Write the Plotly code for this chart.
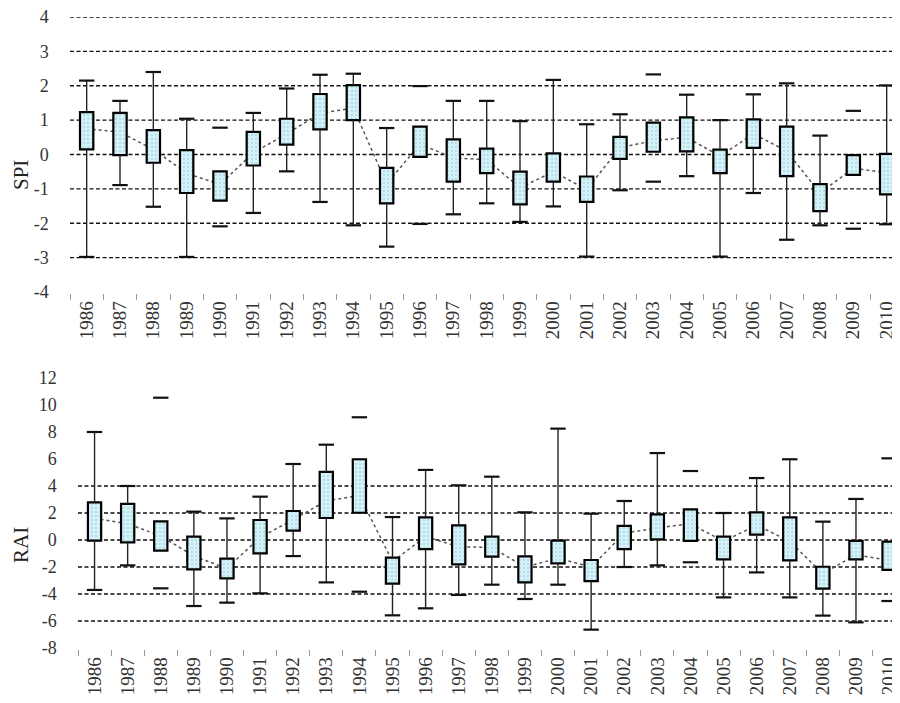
import plotly.graph_objects as go

YEARS = [str(y) for y in range(1986, 2011)]

# ---- SPI (top panel) ----
SPI_LOW  = [-2.98, -0.89, -1.52, -2.98, None, -1.70, -0.49, -1.38, -2.06, -2.68, None, -1.74, -1.42,
            -1.96, -1.51, -2.97, -1.04, None, -0.63, -2.97, -1.12, -2.48, -2.06, None, -2.03]
SPI_Q1   = [0.15, -0.02, -0.24, -1.12, -1.34, -0.32, 0.29, 0.73, 1.00, -1.42, -0.07, -0.79, -0.54,
            -1.45, -0.79, -1.38, -0.13, 0.08, 0.09, -0.54, 0.19, -0.63, -1.65, -0.59, -1.16]
SPI_Q3   = [1.23, 1.21, 0.71, 0.13, -0.49, 0.66, 1.04, 1.76, 2.02, -0.39, 0.81, 0.44, 0.17,
            -0.50, 0.03, -0.64, 0.51, 0.93, 1.08, 0.14, 1.02, 0.81, -0.86, -0.02, 0.02]
SPI_HIGH = [2.15, 1.56, 2.40, 1.04, None, 1.21, 1.92, 2.32, 2.35, 0.77, None, 1.56, 1.56,
            0.97, 2.17, 0.88, 1.17, None, 1.74, 1.00, 1.75, 2.07, 0.55, None, 2.01]
SPI_MEAN = [0.75, 0.65, 0.15, -0.55, -0.87, 0.05, 0.60, 1.20, 1.35, -0.85, 0.30, -0.10, -0.15,
            -0.97, -0.50, -1.02, 0.20, 0.40, 0.50, -0.05, 0.60, 0.10, -1.12, -0.40, -0.53]
SPI_OUT_YEARS = ["1990", "1990", "1996", "1996", "2003", "2003", "2009", "2009"]
SPI_OUT_VALUES = [0.78, -2.09, 1.99, -2.02, 2.33, -0.79, 1.27, -2.16]
SPI_TICKS = [4, 3, 2, 1, 0, -1, -2, -3, -4]
SPI_GRID = [4, 3, 2, 1, 0, -1, -2, -3]

# ---- RAI (bottom panel) ----
RAI_LOW  = [-3.70, -1.88, None, -4.89, -4.64, -3.95, -1.19, -3.14, None, -5.58, -5.06, -4.07, -3.31,
            -4.37, -3.31, -6.64, -2.00, -1.88, None, -4.25, -2.40, -4.25, -5.60, -6.10, None]
RAI_Q1   = [-0.05, -0.17, -0.79, -2.17, -2.84, -0.99, 0.69, 1.63, 2.02, -3.23, -0.67, -1.80, -1.23,
            -3.14, -1.73, -3.04, -0.67, 0.05, -0.07, -1.43, 0.40, -1.51, -3.60, -1.43, -2.22]
RAI_Q3   = [2.79, 2.67, 1.38, 0.25, -1.38, 1.48, 2.15, 5.04, 5.98, -1.31, 1.68, 1.09, 0.25,
            -1.21, -0.05, -1.48, 1.04, 1.90, 2.27, 0.25, 2.05, 1.68, -1.98, -0.07, -0.12]
RAI_HIGH = [8.00, 4.00, None, 2.10, 1.60, 3.21, 5.63, 7.06, None, 1.70, 5.19, 4.05, 4.69,
            2.05, 8.25, 1.95, 2.89, 6.44, None, 2.00, 4.59, 5.98, 1.36, 3.04, None]
RAI_MEAN = [1.60, 1.20, 0.30, -1.20, -2.10, 0.20, 1.50, 2.90, 3.30, -1.60, 0.25, -0.50, -0.55,
            -2.00, -1.35, -2.00, 0.50, 0.90, 1.20, -0.10, 1.10, -0.10, -2.50, -1.10, -1.50]
RAI_OUT_YEARS = ["1988", "1988", "1994", "1994", "2004", "2004", "2010", "2010"]
RAI_OUT_VALUES = [10.54, -3.58, 9.09, -3.83, 5.11, -1.65, 6.05, -4.52]
RAI_TICKS = [12, 10, 8, 6, 4, 2, 0, -2, -4, -6, -8]
RAI_GRID = [4, 2, 0, -2, -4, -6]

SERIF = "Liberation Serif"
BOX_BG = "#d6f2f8"
BOX_DOT = "#86c9d9"
# the page has an 8px body margin, so the figure fills the rest of the 900x703 window
W, H = 892, 695

fig = go.Figure()


def add_panel(xa, ya, low, q1, q3, high, mean, out_years, out_values):
    # mean connecting line (behind boxes)
    fig.add_trace(go.Scatter(
        x=YEARS, y=mean, mode="lines", xaxis=xa, yaxis=ya, zorder=0,
        line=dict(color="#555555", width=1.5, dash="3px,3px"), hoverinfo="skip"))
    # boxes
    fig.add_trace(go.Bar(
        x=YEARS, y=[b - a for a, b in zip(q1, q3)], base=q1, width=0.4,
        xaxis=xa, yaxis=ya, zorder=1,
        marker=dict(color=BOX_BG, line=dict(color="black", width=2.2),
                    pattern=dict(shape=".", fgcolor=BOX_DOT, bgcolor=BOX_BG,
                                 size=4, solidity=0.25))))
    # whiskers
    wx, wy, cx, cy = [], [], [], []
    for yr, lo, a, b, hi in zip(YEARS, low, q1, q3, high):
        if hi is not None:
            wx += [yr, yr, None]
            wy += [hi, b, None]
            cx.append(yr); cy.append(hi)
        if lo is not None:
            wx += [yr, yr, None]
            wy += [a, lo, None]
            cx.append(yr); cy.append(lo)
    fig.add_trace(go.Scatter(
        x=wx, y=wy, mode="lines", xaxis=xa, yaxis=ya, zorder=2,
        line=dict(color="#222222", width=1.4), hoverinfo="skip"))
    # caps and extreme marks
    fig.add_trace(go.Scatter(
        x=cx + out_years, y=cy + out_values, mode="markers", xaxis=xa, yaxis=ya, zorder=3,
        marker=dict(symbol="line-ew", size=11, line=dict(color="#111111", width=2.2))))


add_panel("x", "y", SPI_LOW, SPI_Q1, SPI_Q3, SPI_HIGH, SPI_MEAN, SPI_OUT_YEARS, SPI_OUT_VALUES)
add_panel("x2", "y2", RAI_LOW, RAI_Q1, RAI_Q3, RAI_HIGH, RAI_MEAN, RAI_OUT_YEARS, RAI_OUT_VALUES)

GRID_LINE = dict(color="#111111", width=1.3, dash="4px,2.5px")
shapes = []
for v in SPI_GRID:
    shapes.append(dict(type="line", xref="x domain", yref="y", x0=0, x1=1, y0=v, y1=v,
                       layer="below", line=GRID_LINE))
for v in RAI_GRID:
    shapes.append(dict(type="line", xref="x2 domain", yref="y2", x0=0, x1=1, y0=v, y1=v,
                       layer="below", line=GRID_LINE))

xcommon = dict(type="category", showline=True, linecolor="#9a9a9a", linewidth=1.5,
               ticks="outside", tickson="boundaries", ticklen=6, tickcolor="#9a9a9a",
               tickwidth=1.2, tickangle=-90, showgrid=False, zeroline=False,
               automargin=False, ticklabeloverflow="allow",
               tickfont=dict(family=SERIF, size=19, color="#333333"), fixedrange=True)
ycommon = dict(showline=True, linecolor="#9a9a9a", linewidth=1.5, showgrid=False,
               zeroline=False, ticks="", ticklabelstandoff=16, automargin=False,
               ticklabeloverflow="allow",
               tickfont=dict(family=SERIF, size=18, color="#333333"))

fig.update_layout(
    width=W, height=H, margin=dict(l=0, r=0, t=0, b=0, pad=0, autoexpand=False),
    paper_bgcolor="white", plot_bgcolor="white", showlegend=False, barmode="overlay",
    xaxis=dict(xcommon, domain=[62 / W, 1], anchor="y", range=[-0.5, 24.4]),
    yaxis=dict(ycommon, domain=[1 - 284 / H, 1 - 9 / H], anchor="x", range=[-4, 4],
               tickvals=SPI_TICKS, ticktext=[str(v) for v in SPI_TICKS]),
    xaxis2=dict(xcommon, domain=[70 / W, 1], anchor="y2", range=[-0.5, 24.33]),
    yaxis2=dict(ycommon, domain=[1 - 640 / H, 1 - 370 / H], anchor="x2", range=[-8, 12],
                tickvals=RAI_TICKS, ticktext=[str(v) for v in RAI_TICKS]),
    shapes=shapes,
    annotations=[
        dict(text="SPI", xref="paper", yref="paper", x=13 / W, y=1 - 167 / H, showarrow=False,
             xanchor="center", yanchor="middle",
             textangle=-90, font=dict(family=SERIF, size=21, color="#222222")),
        dict(text="RAI", xref="paper", yref="paper", x=13 / W, y=1 - 537 / H, showarrow=False,
             xanchor="center", yanchor="middle",
             textangle=-90, font=dict(family=SERIF, size=21, color="#222222")),
    ],
)

fig.write_html("out.html")
